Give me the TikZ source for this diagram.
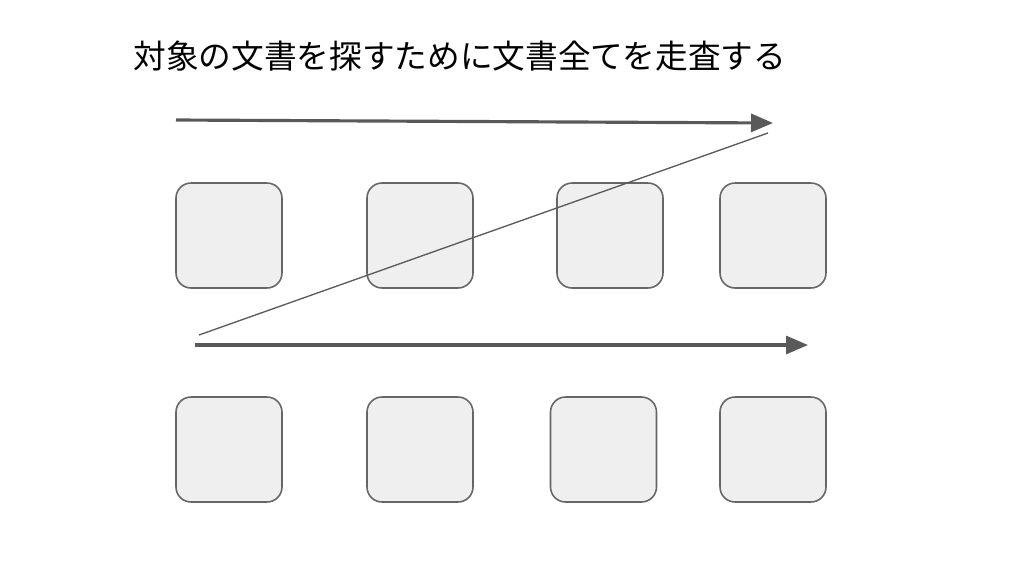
\documentclass[tikz,border=0pt]{standalone}
\usepackage{fontspec}
\usetikzlibrary{arrows.meta}
\newfontfamily\cjk{Noto Sans CJK JP}
\definecolor{boxfill}{HTML}{EFEFEF}
\definecolor{boxline}{HTML}{666666}
\definecolor{arrowgray}{HTML}{595959}
\begin{document}
\begin{tikzpicture}[
  x=0.02cm, y=-0.02cm,
  doc/.style={rectangle, rounded corners=0.3cm, draw=boxline, fill=boxfill, line width=0.9pt, minimum width=2.12cm, minimum height=2.1cm, inner sep=0pt},
  arrow/.style={-{Triangle[length=0.44cm, width=0.36cm]}, arrowgray, line width=1.8pt},
  scan/.style={arrowgray, line width=0.75pt}
]
  \useasboundingbox (0,0) rectangle (1024,576);

  % Titre
  \node[font=\cjk\fontsize{18.6pt}{22pt}\selectfont, anchor=west, inner sep=0pt] (title) at (133,56) {対象の文書を探すために文書全てを走査する};

  % Documents (rangée 1)
  \node[doc] (a1) at (229,235.5) {};
  \node[doc] (a2) at (420,235.5) {};
  \node[doc] (a3) at (610,235.5) {};
  \node[doc] (a4) at (773,235.5) {};

  % Documents (rangée 2)
  \node[doc] (b1) at (229,449.5) {};
  \node[doc] (b2) at (420,449.5) {};
  \node[doc] (b3) at (603.5,449.5) {};
  \node[doc] (b4) at (773,449.5) {};

  % Points des flèches
  \coordinate (s1) at (176,120);
  \coordinate (e1) at (773,123);
  \coordinate (d1) at (768,133);
  \coordinate (d2) at (199,335);
  \coordinate (s2) at (195,345);
  \coordinate (e2) at (808,345);

  % Flèches
  \draw[arrow] (s1) -- (e1);
  \draw[scan] (d1) -- (d2);
  \draw[arrow] (s2) -- (e2);
\end{tikzpicture}
\end{document}
